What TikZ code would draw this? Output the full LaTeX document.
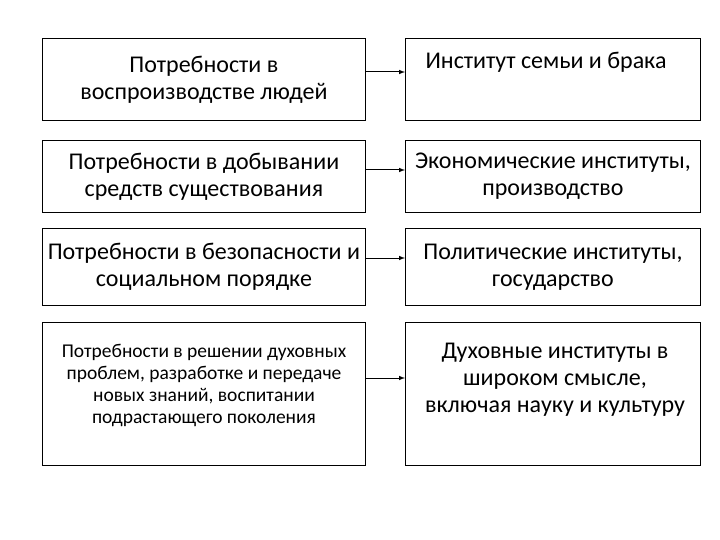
\documentclass[tikz,border=0pt]{standalone}
\usepackage{fontspec}
\setmainfont{Carlito}
\begin{document}
\begin{tikzpicture}[x=1pt,y=-1pt,
 bx/.style={draw=black,line width=0.8pt,align=center,inner sep=0pt,anchor=north west},
 big/.style={font=\fontsize{24}{27}\selectfont},
 sml/.style={font=\fontsize{19.5}{22}\selectfont},
 ar/.style={-latex,line width=1pt}]
\useasboundingbox (0,0) rectangle (720,540);
\node[bx,big,minimum width=323pt,minimum height=82pt] (l1) at (42,38) {Потребности в\\воспроизводстве людей};
\node[bx,big,minimum width=323pt,minimum height=72pt] (l2) at (42,140) {Потребности в добывании\\средств существования};
\node[bx,big,minimum width=323pt,minimum height=77pt] (l3) at (42,228) {Потребности в безопасности и\\социальном порядке};
\node[bx,minimum width=323pt,minimum height=143pt] (l4) at (42,322) {};
\node[sml,align=center] at (204,385) {Потребности в решении духовных\\проблем, разработке и передаче\\новых знаний, воспитании\\подрастающего поколения};
\node[bx,minimum width=295pt,minimum height=82pt] (r1) at (405,38) {};
\node[big] at (546,62) {Институт семьи и брака};
\node[bx,big,minimum width=295pt,minimum height=72pt] (r2) at (405,140) {Экономические институты,\\производство};
\node[bx,big,minimum width=295pt,minimum height=77pt] (r3) at (405,228) {Политические институты,\\государство};
\node[bx,minimum width=295pt,minimum height=143pt] (r4) at (405,322) {};
\node[big,align=center] at (555,380) {Духовные институты в\\широком смысле,\\включая науку и культуру};
\draw[ar] (l1.east |- 0,72) -- (r1.west |- 0,72);
\draw[ar] (l2.east |- 0,170) -- (r2.west |- 0,170);
\draw[ar] (l3.east |- 0,258) -- (r3.west |- 0,258);
\draw[ar] (l4.east |- 0,378) -- (r4.west |- 0,378);
\end{tikzpicture}
\end{document}
